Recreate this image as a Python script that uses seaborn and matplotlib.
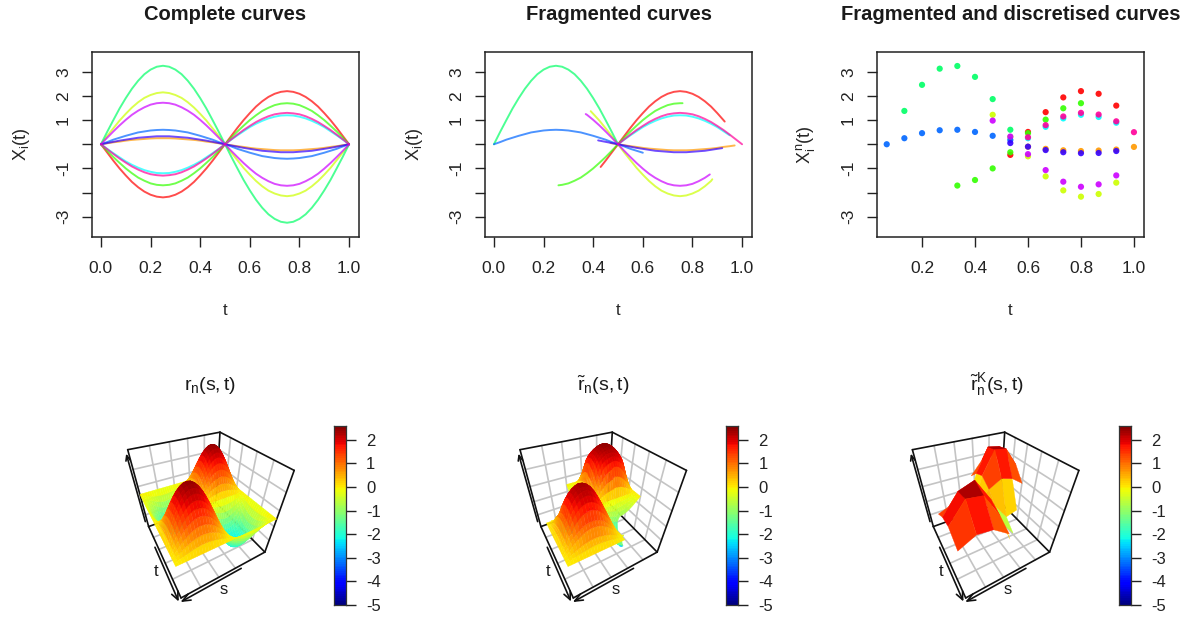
import numpy as np
import pandas as pd
import matplotlib
matplotlib.use("Agg")
import matplotlib.pyplot as plt
import seaborn as sns
from mpl_toolkits.mplot3d.art3d import Poly3DCollection

W, H = 1188, 619

# ---------- data ----------
names = ["red", "orange", "yellow", "green", "spring", "cyan", "blue", "indigo", "purple", "pink"]
colours = ["#FF0000", "#FF9900", "#CCFF00", "#33FF00", "#00FF66",
           "#00FFFF", "#0066FF", "#3300FF", "#CC00FF", "#FF0099"]

# rise of each curve over t = 0 ... 0.25 in steps of 0.025 (the plot repeats it mirrored)
t_grid = [i * 0.025 for i in range(41)]
red_q = [0, -.34, -.68, -1.0, -1.29, -1.56, -1.78, -1.96, -2.09, -2.17, -2.2]
orange_q = [0, .04, .08, .11, .15, .18, .20, .22, .24, .25, .25]
yellow_q = [0, .34, .66, .98, 1.26, 1.52, 1.74, 1.92, 2.04, 2.12, 2.15]
green_q = [0, -.27, -.53, -.77, -1.0, -1.2, -1.38, -1.51, -1.62, -1.68, -1.7]
spring_q = [0, .51, 1.0, 1.48, 1.91, 2.30, 2.63, 2.90, 3.09, 3.21, 3.25]
cyan_q = [0, -.19, -.37, -.54, -.71, -.85, -.97, -1.07, -1.14, -1.19, -1.2]
blue_q = [0, .09, .19, .27, .35, .42, .49, .53, .57, .59, .6]
indigo_q = [0, .05, .10, .15, .19, .23, .27, .29, .31, .33, .33]
purple_q = [0, .27, .53, .78, 1.01, 1.22, 1.39, 1.53, 1.64, 1.70, 1.72]
pink_q = [0, -.20, -.40, -.59, -.76, -.92, -1.05, -1.16, -1.24, -1.28, -1.3]
quarters = [red_q, orange_q, yellow_q, green_q, spring_q, cyan_q, blue_q, indigo_q, purple_q, pink_q]

# observed stretch of each fragmented curve: start t, value, end t, value
frag_start_t = [.43, .47, .39, .26, 0.0, .50, 0.0, .42, .37, .50]
frag_start_y = [-.94, .05, 1.37, -1.70, 0.0, 0.0, 0.0, .16, 1.25, 0.0]
frag_end_t = [.93, .97, .88, .76, .50, .95, .60, .92, .87, 1.0]
frag_end_y = [.94, -.05, -1.45, 1.70, 0.0, .37, -.35, -.16, -1.25, 0.0]

t_disc = [.0667, .1333, .2, .2667, .3333, .4, .4667, .5333, .6, .6667, .7333, .8, .8667, .9333, 1.0]
n = np.nan
red_d = [n, n, n, n, n, n, n, -.44, .51, 1.33, 1.94, 2.2, 2.09, 1.6, n]
orange_d = [n, n, n, n, n, n, n, n, -.1, -.19, -.25, -.28, -.26, -.22, -.11]
yellow_d = [n, n, n, n, n, n, 1.22, .3, -.5, -1.33, -1.91, -2.17, -2.06, -1.59, n]
green_d = [n, n, n, n, -1.71, -1.48, -1.0, -.33, .46, 1.02, 1.49, 1.7, n, n, n]
spring_d = [n, 1.38, 2.46, 3.13, 3.24, 2.79, 1.87, .6, n, n, n, n, n, n, n]
cyan_d = [n, n, n, n, n, n, n, n, .25, .72, 1.07, 1.22, 1.13, .89, n]
blue_d = [0, .25, .46, .58, .6, .51, .35, .18, n, n, n, n, n, n, n]
indigo_d = [n, n, n, n, n, n, n, .05, -.1, -.24, -.33, -.37, -.36, -.28, n]
purple_d = [n, n, n, n, n, n, .98, .32, -.41, -1.07, -1.55, -1.76, -1.66, -1.29, n]
pink_d = [n, n, n, n, n, n, n, n, .29, .79, 1.15, 1.3, 1.23, .95, .5]
discrete = [red_d, orange_d, yellow_d, green_d, spring_d, cyan_d, blue_d, indigo_d, purple_d, pink_d]

# third surface: coarse knots and heights estimated from the facet colours (rows s, columns t)
kernel_knots = [.05, .19, .32, .46, .59, .73, .86, 1.0]
kernel_s05 = [1.2, 1.4, 1.3, .5, n, n, n, n]
kernel_s19 = [1.4, 2.2, 2.3, 1.0, -.6, n, n, n]
kernel_s32 = [1.3, 2.3, 2.4, 1.2, -.8, -1.4, n, n]
kernel_s46 = [.5, 1.0, 1.2, .8, .2, -.4, -.8, n]
kernel_s59 = [n, -.7, -1.0, .1, .7, 1.3, 1.0, .6]
kernel_s73 = [n, n, -1.7, -.9, 1.4, 2.45, 2.2, 1.2]
kernel_s86 = [n, n, n, -1.2, 1.2, 2.2, 2.3, 1.3]
kernel_s100 = [n, n, n, n, .9, 1.3, 1.4, .9]

y_ticks = [-3, -2, -1, 0, 1, 2, 3]
y_tick_labels = ["-3", "", "-1", "", "1", "2", "3"]
cb_ticks = [-5, -4, -3, -2, -1, 0, 1, 2]
cb_lim = (-5.0, 2.6)
peak_cap = (2.0, 2.5)   # surfaces flatten out at the top of the colour key
cov_scale = 10 / 12     # complete-curve covariance scale read from the peak height
frag_weight = 0.45      # share of the raw fragment covariance in the second surface

complete = []
for q in quarters:
    half = q + q[-2::-1]
    complete.append(half + [-v for v in half[1:]])

# ---------- theme ----------
sns.set_theme(style="ticks")
plt.rcParams.update({
    "font.family": ["Liberation Sans", "DejaVu Sans"],
    "mathtext.fontset": "custom",
    "mathtext.rm": "Liberation Sans",
    "mathtext.it": "Liberation Sans",
    "mathtext.bf": "Liberation Sans:bold",
    "text.color": "#1a1a1a",
    "axes.edgecolor": "#222222",
    "axes.linewidth": 1.1,
    "xtick.color": "#222222",
    "ytick.color": "#222222",
})
fig = plt.figure(figsize=(W / 100, H / 100), dpi=100)
palette = dict(zip(names, colours))


def rect(x0, y0, x1, y1):
    return [x0 / W, 1 - y1 / H, (x1 - x0) / W, (y1 - y0) / H]


def style_axis(ax, title, ylabel, xlim, xticks):
    ax.set_xlim(*xlim)
    ax.set_ylim(-3.84, 3.82)
    ax.set_xticks(xticks)
    ax.set_xticklabels([f"{v:.1f}" for v in xticks], fontsize=12.5)
    ax.set_yticks(y_ticks)
    ax.set_yticklabels(y_tick_labels, fontsize=12.5, rotation=90, va="center")
    ax.tick_params(axis="x", length=7.2, width=1.0, pad=10)
    ax.tick_params(axis="y", length=7.2, width=1.0, pad=8)
    ax.set_title(title, fontsize=14.5, fontweight="bold", pad=23)
    ax.set_xlabel("t", fontsize=12)
    ax.set_ylabel(ylabel, fontsize=13)
    ax.xaxis.set_label_coords(0.5, -0.355)
    ax.yaxis.set_label_coords(-0.225, 0.5)
    sns.despine(ax=ax, top=False, right=False)


# ---------- top row ----------
long_complete = pd.DataFrame(
    [{"t": t, "y": v, "curve": nm} for nm, c in zip(names, complete) for t, v in zip(t_grid, c)])
ax1 = fig.add_axes(rect(92, 52, 359, 237))
sns.lineplot(data=long_complete, x="t", y="y", hue="curve", palette=palette, estimator=None,
             units="curve", sort=False, legend=False, lw=1.4, alpha=0.7, ax=ax1)
style_axis(ax1, "Complete curves", r"$X_i(t)$", (-0.036, 1.04), [0, .2, .4, .6, .8, 1.0])

rows = []
for nm, c, st, sy, et, ey in zip(names, complete, frag_start_t, frag_start_y, frag_end_t, frag_end_y):
    rows.append({"t": st, "y": sy, "curve": nm})
    rows += [{"t": t, "y": v, "curve": nm} for t, v in zip(t_grid, c) if st < t < et]
    rows.append({"t": et, "y": ey, "curve": nm})
long_frag = pd.DataFrame(rows)
ax2 = fig.add_axes(rect(485, 52, 752, 237))
sns.lineplot(data=long_frag, x="t", y="y", hue="curve", palette=palette, estimator=None,
             units="curve", sort=False, legend=False, lw=1.4, alpha=0.7, ax=ax2)
style_axis(ax2, "Fragmented curves", r"$X_i(t)$", (-0.036, 1.04), [0, .2, .4, .6, .8, 1.0])

long_disc = pd.DataFrame(
    [{"t": t, "y": v, "curve": nm} for nm, c in zip(names, discrete) for t, v in zip(t_disc, c) if not np.isnan(v)])
ax3 = fig.add_axes(rect(877, 52, 1144, 237))
sns.scatterplot(data=long_disc, x="t", y="y", hue="curve", palette=palette, legend=False,
                s=20, linewidth=0, alpha=0.9, ax=ax3)
style_axis(ax3, "Fragmented and discretised curves", r"$X_i^n(t)$", (0.03, 1.038), [.2, .4, .6, .8, 1.0])


# ---------- surfaces ----------
def soft_cap(z):
    lo, hi = peak_cap
    return np.where(z > lo, lo + (hi - lo) * (1 - np.exp(-(np.nan_to_num(z) - lo) / (hi - lo))), z)


def pair_cov(values):
    """Mean of X(s)X(t) over the curves observed at both s and t."""
    v = np.asarray(values, float)
    ok = ~np.isnan(v)
    v0 = np.nan_to_num(v)
    num = v0.T @ v0
    cnt = ok.T.astype(float) @ ok.astype(float)
    with np.errstate(invalid="ignore", divide="ignore"):
        z = num / cnt
    z[cnt == 0] = np.nan
    return z


grid = np.array(t_grid)
r_complete = pair_cov(complete) * cov_scale
frag_vals = np.array(complete, float)
for i, (st, et) in enumerate(zip(frag_start_t, frag_end_t)):
    frag_vals[i, (grid < st - 1e-9) | (grid > et + 1e-9)] = np.nan
r_frag = (1 - frag_weight) * r_complete + frag_weight * soft_cap(pair_cov(frag_vals))
r_kernel = np.array([kernel_s05, kernel_s19, kernel_s32, kernel_s46,
                     kernel_s59, kernel_s73, kernel_s86, kernel_s100])

key_cmap = plt.get_cmap("jet", 100)
surf_cmap = plt.get_cmap("jet")
norm = plt.Normalize(*cb_lim)
ZLIM = (-2.5, 2.5)
FOCAL = 0.2
AX_SIZE = 168.0


def draw_surface(ax, s, z):
    floor = ZLIM[0]
    polys, cols = [], []
    for i in range(len(s) - 1):
        for j in range(len(s) - 1):
            cell = z[[i, i + 1, i + 1, i], [j, j, j + 1, j + 1]]
            if np.isnan(cell).any():
                continue
            xs = s[[i, i + 1, i + 1, i]]
            ys = s[[j, j, j + 1, j + 1]]
            polys.append(list(zip(xs, ys, np.clip(cell, floor, ZLIM[1]))))
            cols.append(surf_cmap(norm(cell.mean())))
    pc = Poly3DCollection(polys, facecolors=cols, edgecolors=cols, linewidths=0.25, zorder=3)
    pc.set_clip_on(False)
    ax.add_collection3d(pc)


def draw_box(ax):
    z0, z1 = ZLIM
    grey = dict(color="#c4c4c4", lw=1.2, zorder=1, clip_on=False)
    black = dict(color="#111111", lw=1.2, zorder=2, clip_on=False)
    for g in [.2, .4, .6, .8]:
        ax.plot([g, g], [0, 1], [z0, z0], **grey)
        ax.plot([0, 1], [g, g], [z0, z0], **grey)
        ax.plot([g, g], [0, 0], [z0, z1], **grey)
        ax.plot([0, 0], [g, g], [z0, z1], **grey)
    for f in [.2, .4, .6, .8]:
        zz = z0 + f * (z1 - z0)
        ax.plot([0, 1], [0, 0], [zz, zz], **grey)
        ax.plot([0, 0], [0, 1], [zz, zz], **grey)
    for xs, ys, zs in [([0, 1], [0, 0], [z1, z1]), ([0, 0], [0, 1], [z1, z1]),
                       ([1, 1], [0, 0], [z0, z1]), ([0, 0], [1, 1], [z0, z1]), ([0, 0], [0, 0], [z0, z1]),
                       ([1, 1], [0, 1], [z0, z0]), ([0, 1], [1, 1], [z0, z0]),
                       ([0, 1], [0, 0], [z0, z0]), ([0, 0], [0, 1], [z0, z0])]:
        ax.plot(xs, ys, zs, **black)
    o = 1.03
    ax.plot([.35, 1.0], [o, o], [z0, z0], **black)                  # s
    ax.plot([.93, 1.0, .93], [o - .03, o, o + .03], [z0] * 3, **black)
    ax.plot([o, o], [.35, 1.0], [z0, z0], **black)                  # t
    ax.plot([o - .03, o, o + .03], [.93, 1.0, .93], [z0] * 3, **black)
    ax.plot([1.02, 1.02], [-.02, -.02], [z0 + .4, z1 - .3], **black)
    ax.plot([1.0, 1.02, 1.04], [-.02, -.02, -.02], [z1 - .55, z1 - .3, z1 - .55], **black)
    ax.text(.63, 1.12, z0, "s", fontsize=12, rotation=20, ha="center", va="center", clip_on=False)
    ax.text(1.11, .64, z0, "t", fontsize=12, rotation=-70, ha="center", va="center", clip_on=False)


def panel(cx, cy, s, z, title, tx):
    left = cx - 0.5135 * AX_SIZE
    top = cy - 0.4865 * AX_SIZE
    ax = fig.add_axes(rect(left, top, left + AX_SIZE, top + AX_SIZE), projection="3d")
    ax.set_axis_off()
    ax.patch.set_alpha(0)
    ax.computed_zorder = False
    ax.set_xlim(0, 1)
    ax.set_ylim(0, 1)
    ax.set_zlim(*ZLIM)
    ax.set_box_aspect((1, 1, 1))
    ax.view_init(elev=39.6, azim=60.8)
    ax.set_proj_type("persp", focal_length=FOCAL)
    draw_box(ax)
    draw_surface(ax, np.asarray(s), z)
    fig.text(tx / W, 1 - 385 / H, title, fontsize=14, ha="center", va="center")


def colour_key(x0):
    cax = fig.add_axes(rect(x0, 425.7, x0 + 12.3, 605))
    sns.heatmap(np.linspace(cb_lim[0], cb_lim[1], 100)[:, None], cmap=key_cmap, vmin=cb_lim[0], vmax=cb_lim[1],
                cbar=False, ax=cax, xticklabels=False, yticklabels=False)
    cax.invert_yaxis()
    cax.set_yticks((np.array(cb_ticks) - cb_lim[0]) / (cb_lim[1] - cb_lim[0]) * 100)
    cax.set_yticklabels([str(v) for v in cb_ticks], fontsize=12, rotation=0)
    cax.yaxis.tick_right()
    cax.tick_params(axis="y", length=7.5, width=1.0, pad=7, right=True, left=False)
    for sp in cax.spines.values():
        sp.set_visible(True)
        sp.set_color("#333333")
        sp.set_linewidth(0.9)


panel(202.7, 505.7, grid, r_complete, r"$r_n(s,t)$", 210)
panel(595.0, 505.7, grid, r_frag, r"$\tilde{r}_n(s,t)$", 603)
panel(987.4, 505.7, np.array(kernel_knots), r_kernel, r"$\tilde{r}_n^K(s,t)$", 997)
colour_key(333.7)
colour_key(726)
colour_key(1119)

fig.savefig("out.png", dpi=100)
